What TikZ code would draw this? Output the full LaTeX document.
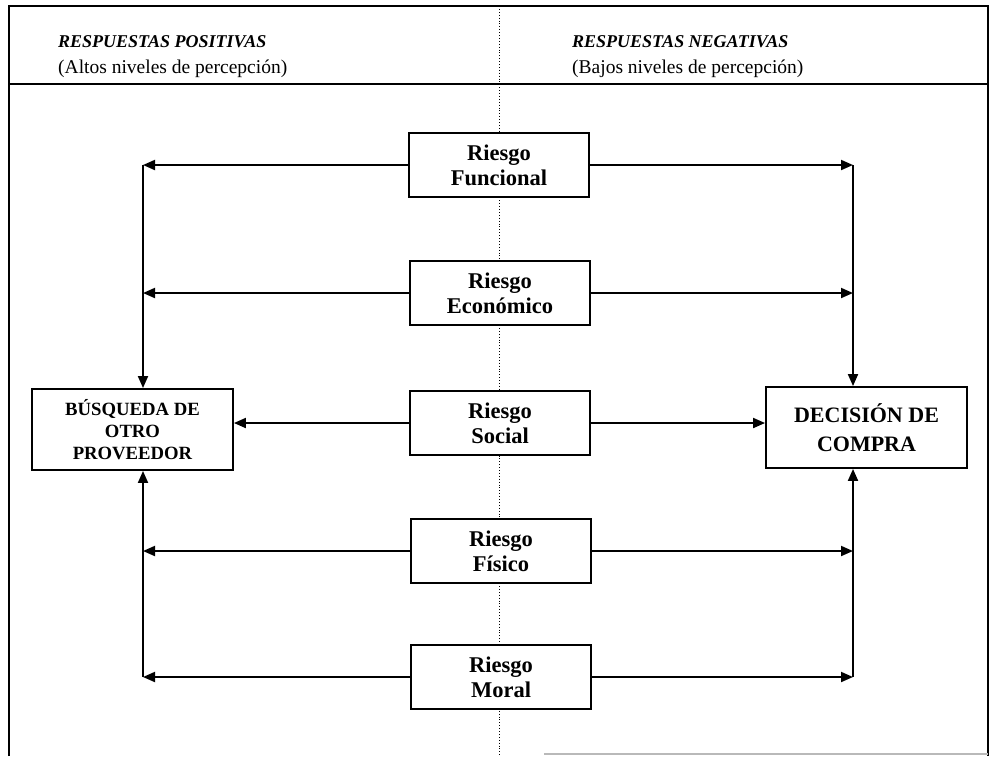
\documentclass[tikz,border=0pt]{standalone}
\usepackage{fontspec}
\setmainfont{Liberation Serif}
\usetikzlibrary{arrows.meta}
\begin{document}
\begin{tikzpicture}[x=1pt,y=-1pt,
  frame/.style={line width=1.9pt},
  riskbox/.style={draw, line width=1.9pt, fill=white, minimum width=180pt,
    minimum height=64pt, inner sep=0pt, align=center,
    font=\fontsize{22.5}{25}\selectfont\bfseries},
  outbox/.style={draw, line width=1.9pt, fill=white, minimum width=201pt,
    minimum height=81pt, inner sep=0pt, align=center},
  link/.style={line width=1.9pt},
  arr/.style={link, -{Triangle[length=12pt,width=10pt]}},
  head/.style={anchor=base west, inner sep=0pt,
    font=\fontsize{18}{20}\selectfont\bfseries\itshape},
  subhead/.style={anchor=base west, inner sep=0pt,
    font=\fontsize{19.5}{20}\selectfont},
]
\useasboundingbox (0,0) rectangle (992,756);

% table frame and column divider
\draw[frame] (9,756) -- (9,6) -- (988,6) -- (988,756);
\draw[frame] (9,84) -- (988,84);
\draw[gray!55, line width=1.5pt] (544,754) -- (988,754);
\draw[dotted, line width=0.9pt] (499,6) -- (499,756);

% column headings
\node[head] (hpos) at (58,47) {RESPUESTAS POSITIVAS};
\node[subhead] (spos) at (58,73) {(Altos niveles de percepción)};
\node[head] (hneg) at (572,47) {RESPUESTAS NEGATIVAS};
\node[subhead] (sneg) at (572,73) {(Bajos niveles de percepción)};

% risk boxes
\node[riskbox] (fun) at (499,165) {Riesgo\\Funcional};
\node[riskbox] (eco) at (500,293) {Riesgo\\Económico};
\node[riskbox] (soc) at (500,423) {Riesgo\\Social};
\node[riskbox] (fis) at (501,551) {Riesgo\\Físico};
\node[riskbox] (mor) at (501,677) {Riesgo\\Moral};

% outcome boxes
\node[outbox, font=\fontsize{18.7}{22}\selectfont\bfseries] (bus) at (132.5,429.5)
  {BÚSQUEDA DE\\OTRO\\PROVEEDOR};
\node[outbox, font=\fontsize{22}{29}\selectfont\bfseries] (dec) at (866.5,427.5)
  {DECISIÓN DE\\COMPRA};

% collector lines
\coordinate (lx) at (143,0);
\coordinate (rx) at (853,0);

% positive responses
\draw[arr] (fun.west) -- (fun.west -| lx);
\draw[arr] (fun.west -| lx) -- (bus.north -| lx);
\draw[arr] (eco.west) -- (eco.west -| lx);
\draw[arr] (soc.west) -- (soc.west -| bus.east);
\draw[arr] (fis.west) -- (fis.west -| lx);
\draw[arr] (mor.west) -- (mor.west -| lx);
\draw[arr] (mor.west -| lx) -- (bus.south -| lx);

% negative responses
\draw[arr] (fun.east) -- (fun.east -| rx);
\draw[arr] (fun.east -| rx) -- (dec.north -| rx);
\draw[arr] (eco.east) -- (eco.east -| rx);
\draw[arr] (soc.east) -- (soc.east -| dec.west);
\draw[arr] (fis.east) -- (fis.east -| rx);
\draw[arr] (mor.east) -- (mor.east -| rx);
\draw[arr] (mor.east -| rx) -- (dec.south -| rx);
\end{tikzpicture}
\end{document}
